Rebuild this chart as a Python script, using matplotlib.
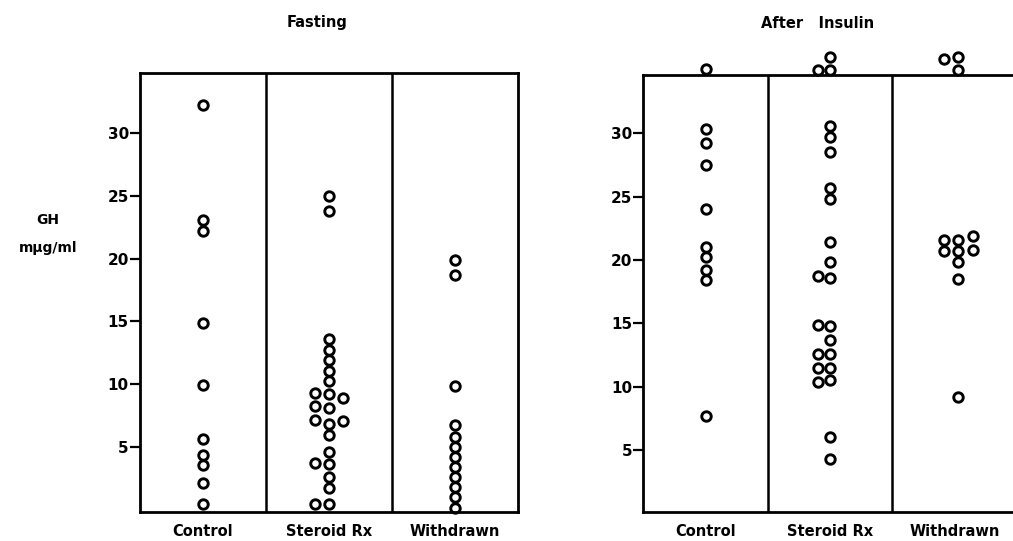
import matplotlib
matplotlib.use("Agg")
import matplotlib.pyplot as plt

groups = ["Control", "Steroid Rx", "Withdrawn"]
yticks = [5, 10, 15, 20, 25, 30]

# Fasting GH values (mμg/ml) and horizontal offsets within a column
fast_control = [32.3, 23.1, 22.2, 14.9, 9.9, 5.6, 4.3, 3.5, 2.1, 0.4]
fast_control_dx = [0] * len(fast_control)
fast_steroid = [25.0, 23.8, 13.6, 12.7, 11.9, 11.0, 10.2, 9.2, 8.1, 6.8, 5.9, 4.6, 3.6, 2.6, 1.7, 0.4,
                9.3, 8.2, 7.1, 3.7, 0.4,
                8.9, 7.05]
fast_steroid_dx = [0] * 16 + [-0.11] * 5 + [0.11] * 2
fast_withdrawn = [19.9, 18.7, 9.8, 6.7, 5.8, 5.0, 4.2, 3.4, 2.6, 1.8, 0.96, 0.13]
fast_withdrawn_dx = [0] * len(fast_withdrawn)

# After insulin GH values
ins_control = [35.1, 30.3, 29.2, 27.5, 24.0, 21.0, 20.2, 19.2, 18.4, 7.7]
ins_control_dx = [0] * len(ins_control)
ins_steroid = [36.0, 35.0, 30.6, 29.7, 28.5, 25.7, 24.8, 21.4, 19.8, 18.6, 14.8, 13.7, 12.6, 11.5, 10.5, 6.0, 4.3,
               35.0, 18.7, 14.9, 12.6, 11.5, 10.4]
ins_steroid_dx = [0] * 17 + [-0.095] * 6
ins_withdrawn = [36.0, 35.0, 21.6, 20.7, 19.8, 18.5, 9.2,
                 35.9, 21.6, 20.7,
                 21.9, 20.8]
ins_withdrawn_dx = [0.03] * 7 + [-0.09] * 3 + [0.15] * 2

fig = plt.figure(figsize=(10.13, 5.41), dpi=100)
fig.patch.set_facecolor("white")
plt.rcParams["font.family"] = ["DejaVu Sans"]

def panel(rect, ylim, data, title, title_xy):
    ax = fig.add_axes(rect)
    for i, (vals, dx) in enumerate(data):
        xs = [i + 0.5 + d for d in dx]
        ax.plot(xs, vals, linestyle="none", marker="o", markersize=6.8,
                markerfacecolor="none", markeredgecolor="black",
                markeredgewidth=2.1, clip_on=False)
    ax.set_xlim(0, 3)
    ax.set_ylim(*ylim)
    for x in (1, 2):
        ax.axvline(x, color="black", linewidth=1.8)
    for s in ax.spines.values():
        s.set_linewidth(2.0)
    ax.set_yticks(yticks)
    ax.set_yticklabels([str(t) for t in yticks], fontsize=11, fontweight="bold")
    ax.tick_params(axis="y", direction="out", length=7, width=1.6, pad=1)
    ax.set_xticks([0.5, 1.5, 2.5])
    ax.set_xticklabels(groups, fontsize=10.5, fontweight="bold")
    ax.tick_params(axis="x", length=0, pad=9)
    fig.text(title_xy[0], title_xy[1], title, ha="center", va="center",
             fontsize=10.5, fontweight="bold")
    return ax

panel([0.1382, 0.0542, 0.3729, 0.8103], (-0.2, 34.8),
      [(fast_control, fast_control_dx), (fast_steroid, fast_steroid_dx), (fast_withdrawn, fast_withdrawn_dx)],
      "Fasting", (317 / 1013, 1 - 22 / 541))
panel([0.635, 0.0542, 0.369, 0.8072], (0.13, 34.6),
      [(ins_control, ins_control_dx), (ins_steroid, ins_steroid_dx), (ins_withdrawn, ins_withdrawn_dx)],
      "After   Insulin", (818 / 1013, 1 - 23 / 541))

fig.text(48 / 1013, 1 - 220 / 541, "GH", ha="center", va="center", fontsize=10, fontweight="bold")
fig.text(48 / 1013, 1 - 248 / 541, "mμg/ml", ha="center", va="center", fontsize=10, fontweight="bold")

fig.savefig("out.png", dpi=100, facecolor="white")
